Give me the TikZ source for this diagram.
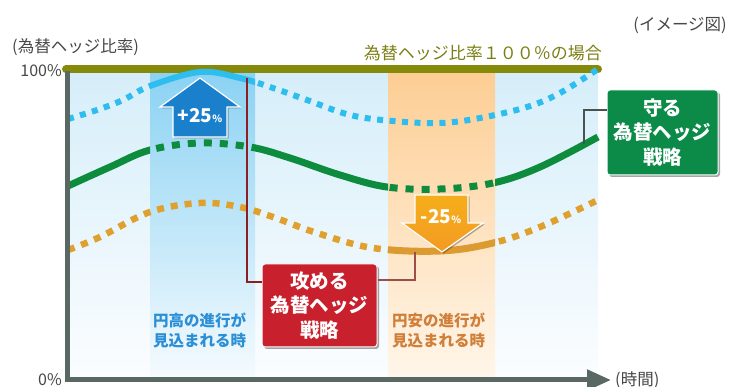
\documentclass[tikz,border=0pt]{standalone}
\usepackage{fontspec}
\setmainfont{Noto Sans CJK JP}
\usetikzlibrary{shadows,arrows.meta}
\definecolor{cOlive}{HTML}{868A0A}
\definecolor{cOliveT}{HTML}{7C7E14}
\definecolor{cBlue}{HTML}{2DBDEE}
\definecolor{cGreen}{HTML}{0E8C3E}
\definecolor{cOrange}{HTML}{E0A02E}
\definecolor{cAxis}{HTML}{5A6863}
\definecolor{cRed}{HTML}{C8202C}
\definecolor{cGbox}{HTML}{0B8A48}
\definecolor{cArrowB}{HTML}{1A80CC}
\definecolor{cArrowO}{HTML}{F39A22}
\definecolor{cBtext}{HTML}{2C8FD6}
\definecolor{cOtext}{HTML}{CF7F3A}
\definecolor{cRline}{HTML}{8E1E22}
\definecolor{cOline}{HTML}{9A5048}
\def\bluepts{(68,119) (97,110) (123,100) (150,86) (200,72) (240,78) (273,88) (307,100) (350,115) (393,121) (440,123) (480,118) (527,107) (560,93) (598,69)}
\def\greenpts{(68,186) (110,167) (150,150) (200,143) (250,147) (290,158) (340,175) (387,187) (440,189) (493,183) (540,167) (598,137)}
\def\orangepts{(68,250) (100,237) (150,212) (200,203) (240,207) (273,217) (317,233) (373,248) (440,251) (493,243) (540,227) (598,200)}
\begin{document}
\begin{tikzpicture}[x=1pt,y=-1pt,
  conn/.style={line width=1.3pt},
  box/.style={rounded corners=3pt, draw=white, line width=1pt, text=white,
    font=\bfseries\fontsize{19.5}{24.5}\selectfont, align=center, inner sep=0pt,
    drop shadow={shadow xshift=2pt,shadow yshift=-2pt,opacity=0.35,fill=black}},
  lbl/.style={inner sep=0pt, font=\fontsize{16.5}{18}\selectfont, text=black!72},
  bandtxt/.style={inner sep=0pt, align=left, font=\bfseries\fontsize{15.5}{20}\selectfont},
  dotB/.style={line width=6pt, dash pattern=on 6pt off 6.5pt, cBlue},
  dotG/.style={line width=7pt, dash pattern=on 8pt off 8pt, cGreen},
  dotO/.style={line width=6.5pt, dash pattern=on 7pt off 7pt, cOrange},
  arr/.style={draw=white, line width=1.2pt, drop shadow={shadow xshift=1.5pt,shadow yshift=-1.5pt,opacity=0.3,fill=black}},
  arrtxt/.style={inner sep=0pt, text=white, font=\bfseries\fontsize{19}{19}\selectfont}
]
\useasboundingbox (0,0) rectangle (729,387);
% backgrounds
\fill[top color={rgb,255:red,214;green,238;blue,249}, bottom color={rgb,255:red,251;green,253;blue,255}] (70,73) rectangle (598,378);
\fill[top color={rgb,255:red,139;green,210;blue,243}, middle color={rgb,255:red,168;green,220;blue,246}, bottom color={rgb,255:red,245;green,251;blue,254}] (150,73) rectangle (255,378);
\fill[top color={rgb,255:red,253;green,206;blue,148}, middle color={rgb,255:red,254;green,222;blue,182}, bottom color={rgb,255:red,255;green,246;blue,234}] (388,73) rectangle (495,378);
% olive 100% line
\draw[cOlive, line width=8pt, line cap=round] (66,69.5) -- (598,69.5);
\draw[cOlive, line width=8pt] (65,69.5) -- (70,69.5);
% blue curve
\begin{scope}
  \clip (60,50) rectangle (150,300) (255,50) rectangle (610,300);
  \draw[dotB] plot[smooth,tension=0.6] coordinates {\bluepts};
\end{scope}
\begin{scope}
  \clip (150,50) rectangle (255,300);
  \draw[cBlue, line width=6pt] plot[smooth,tension=0.6] coordinates {\bluepts};
\end{scope}
% green curve
\begin{scope}
  \clip (60,50) rectangle (150,300) (255,50) rectangle (388,300) (495,50) rectangle (610,300);
  \draw[cGreen, line width=7pt] plot[smooth,tension=0.6] coordinates {\greenpts};
\end{scope}
\begin{scope}
  \clip (150,50) rectangle (255,300) (388,50) rectangle (495,300);
  \draw[dotG] plot[smooth,tension=0.6] coordinates {\greenpts};
\end{scope}
% orange curve
\begin{scope}
  \clip (60,50) rectangle (388,300) (495,50) rectangle (610,300);
  \draw[dotO] plot[smooth,tension=0.6] coordinates {\orangepts};
\end{scope}
\begin{scope}
  \clip (388,50) rectangle (495,300);
  \draw[cOrange!85!brown, line width=7pt] plot[smooth,tension=0.6] coordinates {\orangepts};
\end{scope}
% axes
\draw[cAxis, line width=5pt] (67.5,71) -- (67.5,380);
\draw[cAxis, line width=5pt, -{Triangle[length=24pt,width=20pt]}] (65,380) -- (611,380);
% labels
\node[lbl, anchor=west] (ylab) at (12,47) {(為替ヘッジ比率)};
\node[lbl, anchor=east, font=\fontsize{16}{17}\selectfont] (l100) at (62,71) {100\%};
\node[lbl, anchor=east, font=\fontsize{16}{17}\selectfont] (l0) at (62,380) {0\%};
\node[lbl, anchor=west] (xlab) at (615,380) {(時間)};
\node[lbl, anchor=east] (img) at (727,25) {(イメージ図)};
\node[inner sep=0pt, anchor=east, text=cOliveT, font=\fontsize{17}{18}\selectfont] (full) at (602,53) {為替ヘッジ比率１００％の場合};
% band texts
\node[bandtxt, text=cBtext, anchor=north west] (yenhigh) at (153,313) {円高の進行が\\見込まれる時};
\node[bandtxt, text=cOtext, anchor=north west] (yenlow) at (392,313) {円安の進行が\\見込まれる時};
% arrows
\draw[arr, fill=cArrowB] (173,137) -- (173,107) -- (160,107) -- (200,78) -- (240,107) -- (227,107) -- (227,137) -- cycle;
\node[arrtxt] (up) at (200,116) {+25{\fontsize{10}{10}\selectfont\%}};
\draw[arr, top color=cArrowO!80!yellow, bottom color=cArrowO] (415,195) -- (468,195) -- (468,223) -- (483,223) -- (442,252) -- (402,223) -- (415,223) -- cycle;
\node[arrtxt] (down) at (441,217) {-25{\fontsize{10}{10}\selectfont\%}};
% connector end points
\coordinate (bc) at (247,78);
\coordinate (oc) at (415,252);
\coordinate (gc) at (584,144);
% boxes
\node[box, fill=cGbox, minimum width=111pt, minimum height=85pt] (gbox) at (662.5,132.5) {守る\\為替ヘッジ\\戦略};
\node[box, fill=cRed, minimum width=115pt, minimum height=83pt] (rbox) at (319.5,305.5) {攻める\\為替ヘッジ\\戦略};
% connectors
\draw[conn, cRline] ([yshift=23.5pt]rbox.west) -| (bc);
\draw[conn, cOline] ([yshift=25.5pt]rbox.east) -| (oc);
\draw[conn, cAxis!80!black] ([yshift=22.5pt]gbox.west) -| (gc);
\end{tikzpicture}
\end{document}
